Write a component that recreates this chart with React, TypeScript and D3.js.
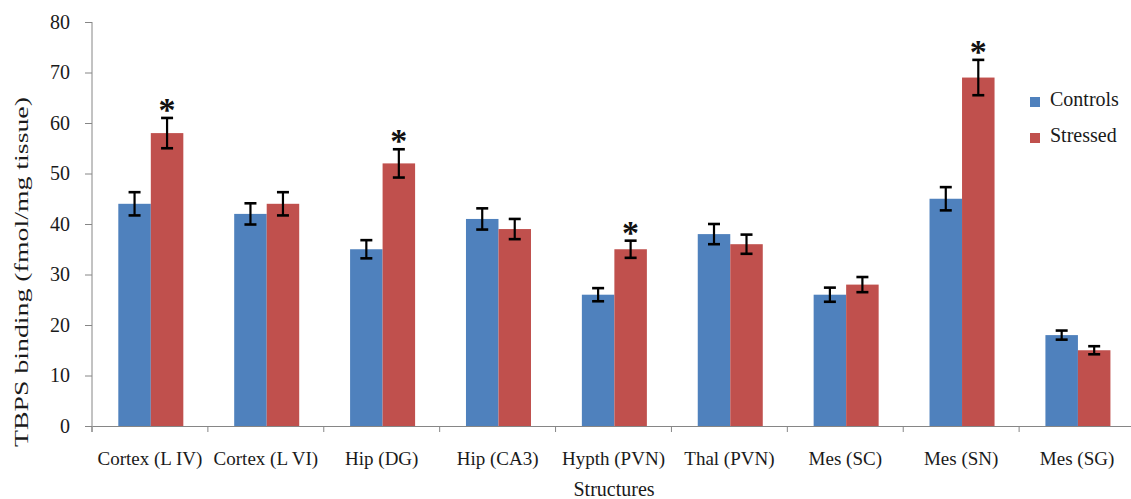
import React, { useEffect, useRef } from 'react';
import * as d3 from 'd3';

const categories = ['Cortex (L IV)', 'Cortex (L VI)', 'Hip (DG)', 'Hip (CA3)', 'Hypth (PVN)', 'Thal (PVN)', 'Mes (SC)', 'Mes (SN)', 'Mes (SG)'];
const seriesNames = ['Controls', 'Stressed'];
const controls = [44, 42, 35, 41, 26, 38, 26, 45, 18];
const stressed = [58, 44, 52, 39, 35, 36, 28, 69, 15];
const controlsErr = [2.3, 2.1, 1.8, 2.1, 1.3, 2.0, 1.4, 2.3, 0.9];
const stressedErr = [3.0, 2.3, 2.8, 2.0, 1.7, 1.9, 1.5, 3.5, 0.8];
const significant = [true, false, true, false, true, false, false, true, false];
const yTicks = [0, 10, 20, 30, 40, 50, 60, 70, 80];

const colors = { Controls: '#4F81BD', Stressed: '#C0504D' };
const axisColor = '#868686';
const font = '"Liberation Serif", "Times New Roman", serif';

const width = 1131;
const height = 499;
const margin = { top: 22, right: -4, bottom: 73, left: 92 };

export default function App() {
	const xAxis = useRef(null);
	const yAxis = useRef(null);

	const x0 = d3.scaleBand().domain(categories).range([margin.left, width - margin.right]).padding(0);
	const bw = x0.bandwidth();
	const x1 = d3.scaleBand().domain(seriesNames).range([bw * 0.227, bw * 0.788]).padding(0);
	const y = d3.scaleLinear().domain([0, 80]).range([height - margin.bottom, margin.top]);

	const rows = categories.map((c, i) => ({
		cat: c,
		values: [
			{ key: 'Controls', v: controls[i], e: controlsErr[i], star: false },
			{ key: 'Stressed', v: stressed[i], e: stressedErr[i], star: significant[i] },
		],
	}));

	useEffect(() => {
		const ya = d3.select(yAxis.current);
		ya.call(d3.axisLeft(y).tickValues(yTicks).tickSize(7).tickPadding(15).tickFormat(d3.format('d')));
		ya.selectAll('path, line').attr('stroke', axisColor);
		ya.selectAll('text').attr('font-family', font).attr('font-size', 20).attr('fill', '#1a1a1a');
		ya.select('.domain').attr('d', `M0,${y(80)}V${y(0) + 6}`);

		const xa = d3.select(xAxis.current);
		xa.call(d3.axisBottom(x0).tickSize(0).tickPadding(26).tickSizeOuter(0));
		xa.selectAll('path').attr('stroke', axisColor);
		xa.selectAll('text').attr('font-family', font).attr('font-size', 19).attr('fill', '#1a1a1a');
		const bounds = categories.map(c => x0(c));
		xa.selectAll('.bound').data(bounds).join('line')
			.attr('class', 'bound')
			.attr('x1', d => d).attr('x2', d => d)
			.attr('y1', 0).attr('y2', 6)
			.attr('stroke', axisColor);
	}, []);

	return (
		<svg width={width} height={height} style={{ position: 'absolute', left: 0, top: 0, background: '#fff' }}>
			<g>
				{rows.map(r => (
					<g key={r.cat} transform={`translate(${x0(r.cat)},0)`}>
						{r.values.map(d => {
							const cx = x1(d.key) + x1.bandwidth() / 2;
							return (
								<g key={d.key}>
									<rect x={x1(d.key)} y={y(d.v)} width={x1.bandwidth()} height={y(0) - y(d.v)} fill={colors[d.key]} />
									<line x1={cx} x2={cx} y1={y(d.v + d.e)} y2={y(d.v - d.e)} stroke="#000" strokeWidth={2.2} />
									<line x1={cx - 6} x2={cx + 6} y1={y(d.v + d.e)} y2={y(d.v + d.e)} stroke="#000" strokeWidth={2.6} />
									<line x1={cx - 6} x2={cx + 6} y1={y(d.v - d.e)} y2={y(d.v - d.e)} stroke="#000" strokeWidth={2.6} />
									{d.star && (
										<text x={cx} y={y(d.v + d.e) + 3} textAnchor="middle" fontFamily={font} fontWeight="bold" fontSize={34} fill="#111">*</text>
									)}
								</g>
							);
						})}
					</g>
				))}
			</g>
			<g ref={yAxis} transform={`translate(${margin.left},0)`}></g>
			<g ref={xAxis} transform={`translate(0,${y(0)})`}></g>
			<text transform={`translate(28,${272}) rotate(-90)`} textAnchor="middle" fontFamily={font} fontSize={19} fill="#1a1a1a" textLength={350} lengthAdjust="spacingAndGlyphs">TBPS binding (fmol/mg tissue)</text>
			<text x={614} y={496} textAnchor="middle" fontFamily={font} fontSize={20} fill="#1a1a1a">Structures</text>
			{seriesNames.map((s, i) => (
				<g key={s} transform={`translate(1030,${97 + i * 36})`}>
					<rect x={0} y={0} width={10} height={10} fill={colors[s]} />
					<text x={20} y={9} fontFamily={font} fontSize={20} fill="#1a1a1a">{s}</text>
				</g>
			))}
		</svg>
	);
}
